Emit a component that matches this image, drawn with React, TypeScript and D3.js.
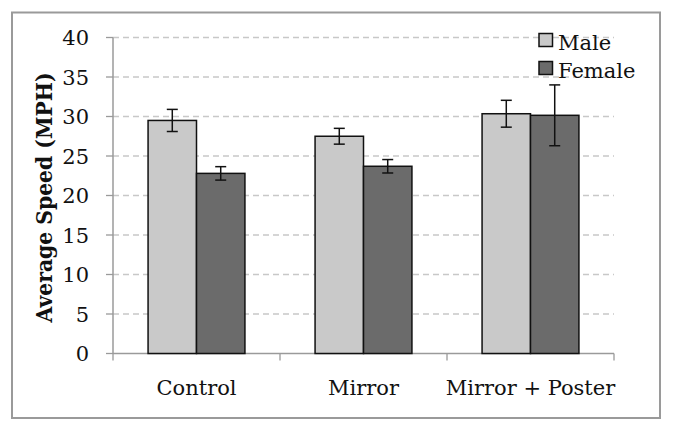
import React from "react";
import * as d3 from "d3";

const categories = ["Control", "Mirror", "Mirror + Poster"];
const seriesNames = ["Male", "Female"];
const maleValues = [29.5, 27.5, 30.35];
const femaleValues = [22.8, 23.7, 30.15];
const maleErrors = [1.4, 1.0, 1.7];
const femaleErrors = [0.85, 0.85, 3.85];
const yTicks = [0, 5, 10, 15, 20, 25, 30, 35, 40];

const W = 673;
const H = 432;
const plotLeft = 113;
const plotRight = 614;
const plotTop = 37.5;
const plotBottom = 353.5;
const FONT = "'DejaVu Serif', serif";
const colors = ["#c9c9c9", "#6b6b6b"];

export default function App() {
  const y = d3.scaleLinear().domain([0, 40]).range([plotBottom, plotTop]);
  const x0 = d3.scaleBand<string>().domain(categories).range([plotLeft, plotRight]).paddingInner(0.42).paddingOuter(0.21);
  const x1 = d3.scaleBand<string>().domain(seriesNames).range([0, x0.bandwidth()]);
  const values = [maleValues, femaleValues];
  const errors = [maleErrors, femaleErrors];
  const catBoundaries = [plotLeft, ...categories.map((c, i) => plotLeft + ((i + 1) * (plotRight - plotLeft)) / categories.length)];

  return (
    <svg width={W} height={H} style={{ position: "absolute", left: 0, top: 0, background: "#fff" }}>
      <rect x={12} y={12.5} width={648} height={405.5} fill="#fff" stroke="#9a9a9a" strokeWidth={2} />
      {yTicks.map((t) => (
        <g key={t}>
          {t > 0 && (
            <line x1={plotLeft} x2={plotRight} y1={y(t)} y2={y(t)} stroke="#c8c8c8" strokeWidth={1.3} strokeDasharray="6,4" />
          )}
          <line x1={plotLeft - 7} x2={plotLeft} y1={y(t)} y2={y(t)} stroke="#9a9a9a" strokeWidth={1.3} />
          <text x={plotLeft - 24} y={y(t)} dy="0.36em" textAnchor="end" fontFamily={FONT} fontSize={21} fill="#111">
            {t}
          </text>
        </g>
      ))}
      <line x1={plotLeft} x2={plotLeft} y1={plotTop} y2={plotBottom} stroke="#9a9a9a" strokeWidth={1.5} />
      <line x1={plotLeft} x2={plotRight} y1={plotBottom} y2={plotBottom} stroke="#9a9a9a" strokeWidth={1.5} />
      {catBoundaries.map((b, i) => (
        <line key={i} x1={b} x2={b} y1={plotBottom} y2={plotBottom + 7} stroke="#9a9a9a" strokeWidth={1.3} />
      ))}
      {categories.map((c, ci) => (
        <g key={c} transform={`translate(${x0(c)},0)`}>
          {seriesNames.map((s, si) => {
            const v = values[si][ci];
            const e = errors[si][ci];
            const bx = x1(s)!;
            const bw = x1.bandwidth();
            const cx = bx + bw / 2;
            return (
              <g key={s}>
                <rect x={bx} y={y(v)} width={bw} height={plotBottom - y(v)} fill={colors[si]} stroke="#111" strokeWidth={1.5} />
                <line x1={cx} x2={cx} y1={y(v + e)} y2={y(v - e)} stroke="#111" strokeWidth={1.5} />
                <line x1={cx - 5.5} x2={cx + 5.5} y1={y(v + e)} y2={y(v + e)} stroke="#111" strokeWidth={1.5} />
                <line x1={cx - 5.5} x2={cx + 5.5} y1={y(v - e)} y2={y(v - e)} stroke="#111" strokeWidth={1.5} />
              </g>
            );
          })}
          <text x={x0.bandwidth() / 2} y={395} textAnchor="middle" fontFamily={FONT} fontSize={21} fill="#111">
            {c}
          </text>
        </g>
      ))}
      {seriesNames.map((s, i) => (
        <g key={s} transform={`translate(539,${33.5 + i * 28})`}>
          <rect x={0} y={0} width={13.5} height={13} fill={colors[i]} stroke="#111" strokeWidth={1.5} />
          <text x={19} y={16} fontFamily={FONT} fontSize={21} fill="#111">
            {s}
          </text>
        </g>
      ))}
      <text
        transform={`translate(52,${(plotTop + plotBottom) / 2 + 2}) rotate(-90)`}
        textAnchor="middle"
        fontFamily={FONT}
        fontWeight="bold"
        fontSize={23}
        textLength={250}
        lengthAdjust="spacingAndGlyphs"
        fill="#111"
      >
        Average Speed (MPH)
      </text>
    </svg>
  );
}
